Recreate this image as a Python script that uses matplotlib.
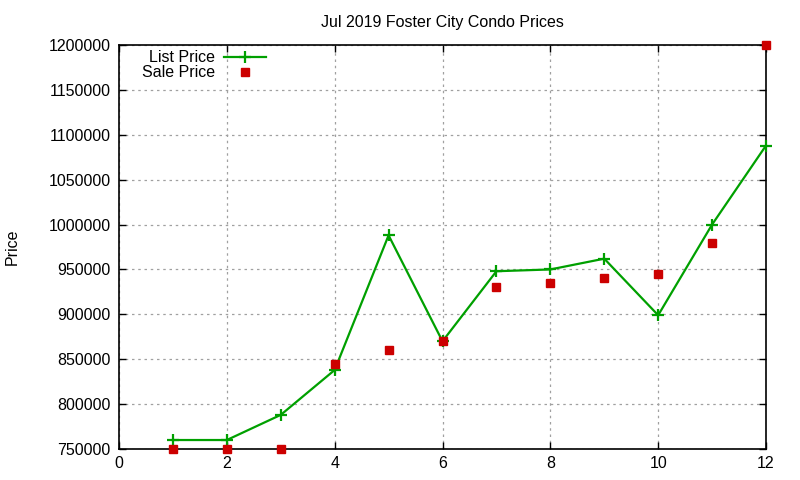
import matplotlib
matplotlib.use("Agg")
import matplotlib.pyplot as plt
from matplotlib.ticker import FuncFormatter

plt.rcParams['font.family'] = ['Liberation Sans', 'DejaVu Sans']

months = [1, 2, 3, 4, 5, 6, 7, 8, 9, 10, 11, 12]
list_price = [760000, 760000, 788000, 838000, 988000, 870000, 948000, 950000,
              962000, 899000, 1000000, 1088000]
sale_price = [750000, 750000, 750000, 845000, 860000, 870000, 930000, 935000,
              940000, 945000, 980000, 1200000]
title = "Jul 2019 Foster City Condo Prices"
ylabel = "Price"

fig = plt.figure(figsize=(8, 4.8), dpi=100)
ax = fig.add_axes([119/800, 1-449/480, (766-119)/800, (449-45)/480])

ax.plot(months, list_price, color='#00a000', lw=1.6, marker='+', ms=8, mew=1.6,
        label='List Price', clip_on=False, zorder=3)
ax.plot(months, sale_price, color='#cc0000', lw=0, marker='s', ms=5.8,
        label='Sale Price', clip_on=False, zorder=4)

ax.set_xlim(0, 12)
ax.set_ylim(750000, 1200000)
ax.set_xticks(range(0, 13, 2))
ax.set_yticks(range(750000, 1200001, 50000))
ax.yaxis.set_major_formatter(FuncFormatter(lambda v, p: f"{int(v)}"))
ax.tick_params(direction='in', top=True, right=True, length=5, width=1,
               labelsize=11.5, colors='black', pad=6)
ax.tick_params(axis='x', pad=5)
ax.grid(True, color='#a0a0a0', linestyle=(0, (2, 3)), linewidth=0.9)
for s in ax.spines.values():
    s.set_linewidth(1.2)

ax.set_title(title, fontsize=11.5, pad=13)
fig.text(12/800, 1-247/480, ylabel, rotation=90, fontsize=11.5, va='center', ha='center')

ax.legend(loc='upper left', bbox_to_anchor=(131/800, 1-39/480),
          bbox_transform=fig.transFigure, frameon=False, markerfirst=False,
          fontsize=11.5, handlelength=2.6, handletextpad=0.55, labelspacing=0.0,
          borderpad=0.2)

fig.savefig('out.png', dpi=100)
